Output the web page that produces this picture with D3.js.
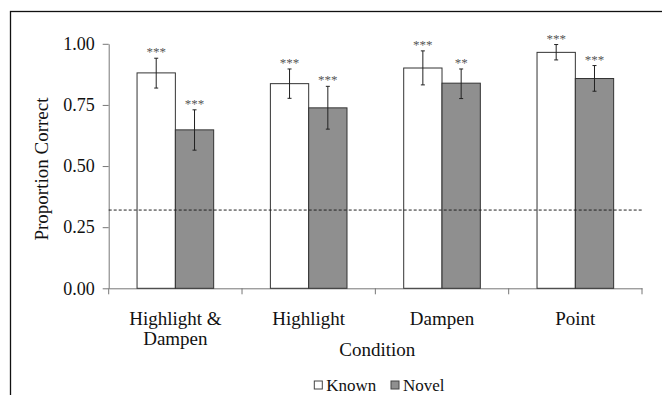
<!DOCTYPE html>
<html>
<head>
<meta charset="utf-8">
<script src="https://cdn.jsdelivr.net/npm/d3@7"></script>
<style>
html,body{margin:0;padding:0;background:#fff;}
svg{display:block;}
svg text{font-family:"Liberation Serif","Times New Roman","DejaVu Serif",serif !important;fill:#111;}
</style>
</head>
<body>
<svg id="chart" width="662" height="395"></svg>
<script>
const categories = ["Highlight & Dampen", "Highlight", "Dampen", "Point"];
const categoryLines = [["Highlight &", "Dampen"], ["Highlight"], ["Dampen"], ["Point"]];
const seriesNames = ["Known", "Novel"];
const knownValues = [0.881, 0.837, 0.901, 0.965];
const knownLow   = [0.819, 0.777, 0.832, 0.934];
const knownHigh  = [0.941, 0.897, 0.971, 0.997];
const novelValues = [0.648, 0.738, 0.839, 0.858];
const novelLow   = [0.565, 0.651, 0.776, 0.806];
const novelHigh  = [0.730, 0.826, 0.897, 0.911];
const knownStars = ["***", "***", "***", "***"];
const novelStars = ["***", "***", "**", "***"];
const yTicks = [0, 0.25, 0.5, 0.75, 1.0];
const chanceLevel = 0.32;
const yTitle = "Proportion Correct";
const xTitle = "Condition";

(function () {
const FONT = '"Liberation Serif","Times New Roman","DejaVu Serif",serif';
const svg = d3.select("#chart");
const mLeft = 108.7, mRight = 642, mTop = 43.8, mBottom = 288.3;

// outer frame (clipped at right/bottom)
svg.append("rect").attr("x", 10.5).attr("y", 11.5).attr("width", 700).attr("height", 500)
  .attr("fill", "none").attr("stroke", "#111").attr("stroke-width", 1.3);

const x = d3.scaleBand().domain(categories).range([mLeft, mRight]).paddingInner(0).paddingOuter(0);
const xs = d3.scaleBand().domain(seriesNames).range([0, x.bandwidth()]).paddingInner(0).paddingOuter(0.74);
const y = d3.scaleLinear().domain([0, 1]).range([mBottom, mTop]);

const rows = categories.map((c, i) => ({
  cat: c,
  bars: [
    {s: "Known", v: knownValues[i], lo: knownLow[i], hi: knownHigh[i], star: knownStars[i]},
    {s: "Novel", v: novelValues[i], lo: novelLow[i], hi: novelHigh[i], star: novelStars[i]}
  ]
}));
const fill = {Known: "#ffffff", Novel: "#8f8f8f"};

// y axis
const yAxis = d3.axisLeft(y).tickValues(yTicks).tickFormat(d3.format(".2f")).tickSize(6).tickSizeOuter(0).tickPadding(8);
const gy = svg.append("g").attr("transform", `translate(${mLeft},0)`).call(yAxis);
gy.attr("font-family", null);
gy.select(".domain").attr("stroke", "#777");
gy.selectAll(".tick line").attr("stroke", "#777");
gy.selectAll(".tick text").style("font-size", "18px").style("font-family", FONT).attr("fill", "#111");

// x axis
const gx = svg.append("g").attr("transform", `translate(0,${mBottom})`)
  .call(d3.axisBottom(x).tickSize(0).tickFormat(""));
gx.select(".domain").attr("stroke", "#777");
const bounds = [x(categories[0])].concat(categories.map(c => x(c) + x.bandwidth()));
gx.selectAll(".btick").data(bounds).enter().append("line")
  .attr("x1", d => d).attr("x2", d => d).attr("y1", 0).attr("y2", 6).attr("stroke", "#777");

// category labels
categories.forEach((c, i) => {
  const t = svg.append("text").attr("x", x(c) + x.bandwidth() / 2).attr("y", 325)
    .attr("text-anchor", "middle").style("font-size", "19px").style("font-family", FONT);
  categoryLines[i].forEach((ln, j) => {
    t.append("tspan").attr("x", x(c) + x.bandwidth() / 2).attr("dy", j === 0 ? 0 : 20).text(ln);
  });
});

// bars
const g = svg.selectAll(".grp").data(rows).enter().append("g")
  .attr("transform", d => `translate(${x(d.cat)},0)`);
g.selectAll("rect").data(d => d.bars).enter().append("rect")
  .attr("x", d => xs(d.s)).attr("width", xs.bandwidth())
  .attr("y", d => y(d.v)).attr("height", d => y(0) - y(d.v))
  .attr("fill", d => fill[d.s]).attr("stroke", "#333").attr("stroke-width", 1);

// chance line
svg.append("line").attr("x1", mLeft).attr("x2", mRight).attr("y1", y(chanceLevel)).attr("y2", y(chanceLevel))
  .attr("stroke", "#222").attr("stroke-width", 1).attr("stroke-dasharray", "3,2");

// error bars
const eb = g.selectAll(".eb").data(d => d.bars).enter().append("g");
eb.append("line").attr("x1", d => xs(d.s) + xs.bandwidth() / 2).attr("x2", d => xs(d.s) + xs.bandwidth() / 2)
  .attr("y1", d => y(d.lo)).attr("y2", d => y(d.hi)).attr("stroke", "#222").attr("stroke-width", 1);
["lo", "hi"].forEach(k => {
  eb.append("line").attr("x1", d => xs(d.s) + xs.bandwidth() / 2 - 2).attr("x2", d => xs(d.s) + xs.bandwidth() / 2 + 2)
    .attr("y1", d => y(d[k])).attr("y2", d => y(d[k])).attr("stroke", "#222").attr("stroke-width", 1);
});
eb.append("text").attr("x", d => xs(d.s) + xs.bandwidth() / 2).attr("y", d => y(d.hi) - 2)
  .attr("text-anchor", "middle").style("font-size", "13px").style("font-family", FONT)
  .style("fill", "#555").text(d => d.star);

// y title
svg.append("text").attr("transform", `translate(48,${(mTop + mBottom) / 2 + 3}) rotate(-90)`)
  .attr("text-anchor", "middle").style("font-size", "19px").style("font-family", FONT).text(yTitle);
// x title
svg.append("text").attr("x", (mLeft + mRight) / 2 + 2).attr("y", 356).attr("text-anchor", "middle")
  .style("font-size", "19px").style("font-family", FONT).text(xTitle);

// legend
const legX = [314.3, 391];
seriesNames.forEach((s, i) => {
  svg.append("rect").attr("x", legX[i]).attr("y", 381).attr("width", 8).attr("height", 8)
    .attr("fill", fill[s]).attr("stroke", "#444").attr("stroke-width", 1);
  svg.append("text").attr("x", legX[i] + 12).attr("y", 391).style("font-size", "17px")
    .style("font-family", FONT).text(s);
});
})();
</script>
</body>
</html>
